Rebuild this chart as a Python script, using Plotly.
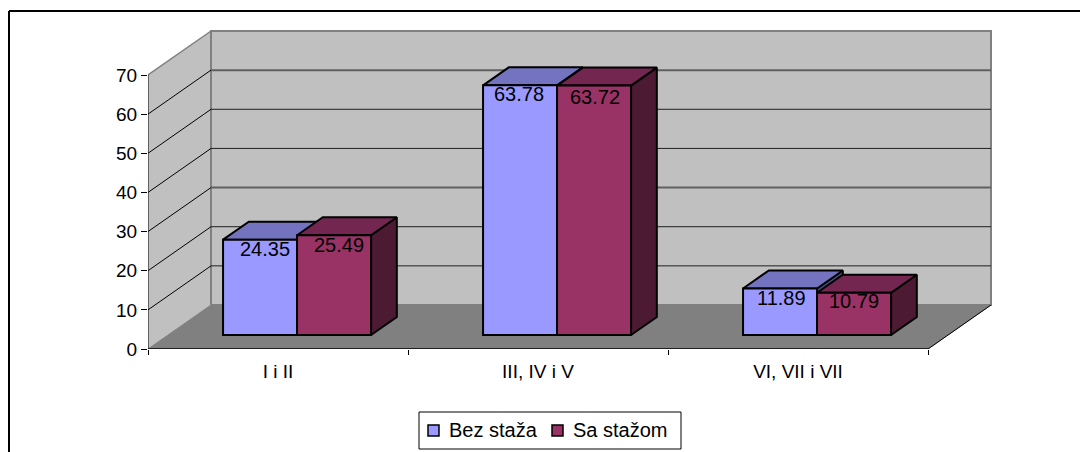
import plotly.graph_objects as go

categories = ["I i II", "III, IV i V", "VI, VII i VII"]
bez_staza = [24.35, 63.78, 11.89]
sa_stazom = [25.49, 63.72, 10.79]
y_ticks = [0, 10, 20, 30, 40, 50, 60, 70]
series_names = ["Bez staža", "Sa stažom"]

W, H = 1080, 452
L, R, T, B = 148, 992, 30, 349
PX_X = 260.0
PX_Y = 274 / 70
DX = 63 / PX_X      # depth of the box, in category units
DY = 44 / PX_Y      # depth of the box, in value units
BW = 74 / PX_X      # bar width
D0, D1 = 14 / 44, 32 / 44   # bar front/back depth fractions
XMAX = (R - L) / PX_X
YMAX = (B - T) / PX_Y
FONT = "Liberation Sans"
EDGE = 2


def xp(px):
    return (px - L) / (R - L)


def yp(py):
    return (B - py) / (B - T)


def pr(x, v, d):
    return x + d * DX, v + d * DY


def poly(pts, fill, line, lw):
    return go.Scatter(x=[p[0] for p in pts] + [pts[0][0]], y=[p[1] for p in pts] + [pts[0][1]],
                      mode="lines", fill="toself", fillcolor=fill,
                      line=dict(color=line, width=lw), hoverinfo="skip", showlegend=False,
                      xaxis="x", yaxis="y")


def seg(a, b, color, lw):
    return go.Scatter(x=[a[0], b[0]], y=[a[1], b[1]], mode="lines", line=dict(color=color, width=lw),
                      hoverinfo="skip", showlegend=False, xaxis="x", yaxis="y")


fig = go.Figure()
n = len(categories)
top = max(y_ticks)
# side wall, back wall, floor
fig.add_trace(poly([pr(0, 0, 0), pr(0, 0, 1), pr(0, top, 1), pr(0, top, 0)], "#C0C0C0", "#C0C0C0", 0.5))
fig.add_trace(poly([pr(0, 0, 1), pr(n, 0, 1), pr(n, top, 1), pr(0, top, 1)], "#C0C0C0", "#808080", 2))
fig.add_trace(poly([pr(0, 0, 0), pr(n, 0, 0), pr(n, 0, 1), pr(0, 0, 1)], "#808080", "#808080", 1))
heavy_grid = {30, 60}
for v in y_ticks[1:-1]:
    fig.add_trace(seg(pr(0, v, 0), pr(0, v, 1), "#000000", 1))
    if v in heavy_grid:
        fig.add_trace(seg(pr(0, v, 1), pr(n, v, 1), "#606060", 2))
    else:
        fig.add_trace(seg(pr(0, v, 1), pr(n, v, 1), "#202020", 1))
fig.add_trace(seg(pr(0, top, 0), pr(0, top, 1), "#808080", 1.5))
fig.add_trace(seg(pr(0, 0, 0), pr(0, top, 0), "#000000", 1))
fig.add_trace(seg(pr(0, 0, 0), pr(n, 0, 0), "#000000", 1.5))
fig.add_trace(seg(pr(n, 0, 0), pr(n, 0, 1), "#000000", 1))

# bar sides and tops (drawn under the front faces, which sit on an overlay subplot)
for s, (vals, side_c, top_c) in enumerate([(bez_staza, "#4D4D80", "#7373BF"), (sa_stazom, "#4D1A33", "#732650")]):
    for i, v in enumerate(vals):
        x0 = i + 0.5 - BW + s * BW - 1 / PX_X
        x1 = x0 + BW
        fig.add_trace(poly([pr(x1, 0, D0), pr(x1, 0, D1), pr(x1, v, D1), pr(x1, v, D0)], side_c, "#000000", EDGE))
        fig.add_trace(poly([pr(x0, v, D0), pr(x1, v, D0), pr(x1, v, D1), pr(x0, v, D1)], top_c, "#000000", EDGE))

# front faces
centers = [i + 0.5 + D0 * DX - 1 / PX_X for i in range(n)]
base = D0 * DY
fig.add_trace(go.Bar(name=series_names[0], x=[c - BW / 2 for c in centers], y=bez_staza, base=base, width=BW,
                     marker=dict(color="#9999FF", line=dict(color="#000000", width=EDGE)),
                     xaxis="x2", yaxis="y2", showlegend=False))
fig.add_trace(go.Bar(name=series_names[1], x=[c + BW / 2 for c in centers], y=sa_stazom, base=base, width=BW,
                     marker=dict(color="#993366", line=dict(color="#000000", width=EDGE)),
                     xaxis="x2", yaxis="y2", showlegend=False))

# value labels
label_dx = [[5, -1, 1], [5, 1, 0]]
label_dy = [[4, 4, 3], [3, 2, 5]]
for s, vals in enumerate([bez_staza, sa_stazom]):
    for i, v in enumerate(vals):
        fig.add_annotation(x=centers[i] + (s - 0.5) * BW, y=base + v, xref="x2", yref="y2", text=f"{v:.2f}",
                           showarrow=False, yanchor="top", xanchor="center",
                           xshift=label_dx[s][i], yshift=label_dy[s][i],
                           font=dict(family=FONT, size=20, color="#000000"))

# legend box
shapes = [
    dict(type="line", xref="paper", yref="paper", x0=xp(9), x1=xp(W), y0=yp(11), y1=yp(11),
         line=dict(color="#000000", width=2)),
    dict(type="line", xref="paper", yref="paper", x0=xp(9), x1=xp(9), y0=yp(11), y1=yp(H),
         line=dict(color="#000000", width=2)),
    dict(type="rect", xref="paper", yref="paper", x0=xp(419), x1=xp(681), y0=yp(449), y1=yp(412),
         line=dict(color="#000000", width=1), fillcolor="#FFFFFF"),
    dict(type="rect", xref="paper", yref="paper", x0=xp(428), x1=xp(439), y0=yp(436), y1=yp(425),
         line=dict(color="#000000", width=1.5), fillcolor="#9999FF"),
    dict(type="rect", xref="paper", yref="paper", x0=xp(552), x1=xp(563), y0=yp(436), y1=yp(425),
         line=dict(color="#000000", width=1.5), fillcolor="#993366"),
]
for name, px in zip(series_names, [447, 571]):
    fig.add_annotation(x=xp(px), y=yp(430), xref="paper", yref="paper", text=name, showarrow=False,
                       xanchor="left", yanchor="middle", font=dict(family=FONT, size=20, color="#000000"))

axis_font = dict(family=FONT, size=19, color="#000000")
fig.update_layout(
    width=W, height=H, autosize=False,
    margin=dict(l=L, r=W - R, t=T, b=H - B, autoexpand=False),
    paper_bgcolor="#FFFFFF", plot_bgcolor="rgba(0,0,0,0)",
    font=axis_font,
    showlegend=False, hovermode=False,
    barmode="overlay",
    xaxis=dict(range=[0, XMAX], tickmode="array", tickvals=[i + 0.5 for i in range(n)], ticktext=categories,
               ticks="", showgrid=False, zeroline=False, showline=False, tickfont=axis_font,
               ticklabelstandoff=9,
               minor=dict(tickmode="array", tickvals=list(range(n + 1)), ticks="outside", ticklen=5,
                          tickcolor="#000000", tickwidth=1, showgrid=False)),
    yaxis=dict(range=[0, YMAX], tickmode="array", tickvals=y_ticks, ticks="outside", ticklen=6,
               tickcolor="#000000", tickwidth=1, showgrid=False, zeroline=False, showline=False, tickfont=axis_font),
    xaxis2=dict(range=[0, XMAX], overlaying="x", visible=False),
    yaxis2=dict(range=[0, YMAX], overlaying="y", visible=False),
    shapes=shapes,
)
fig.write_html("out.html", config={"displayModeBar": False},
               post_script="document.body.style.margin='0';")
